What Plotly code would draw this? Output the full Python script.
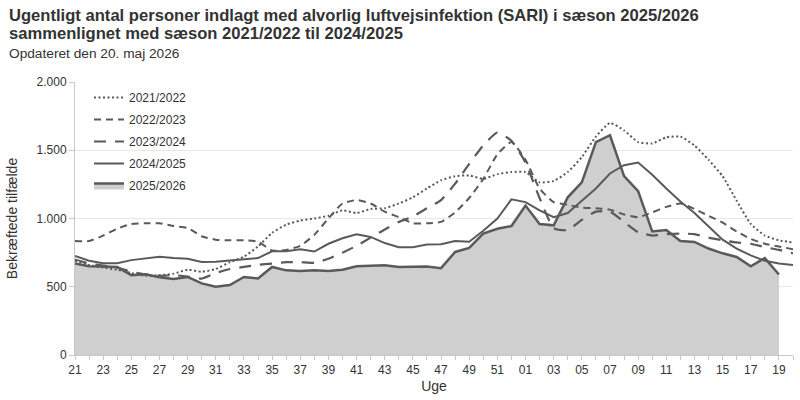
import plotly.graph_objects as go

weeks = ["21", "22", "23", "24", "25", "26", "27", "28", "29", "30",
         "31", "32", "33", "34", "35", "36", "37", "38", "39", "40",
         "41", "42", "43", "44", "45", "46", "47", "48", "49", "50",
         "51", "52", "01", "02", "03", "04", "05", "06", "07", "08",
         "09", "10", "11", "12", "13", "14", "15", "16", "17", "18",
         "19", "20"]

s2122 = [690, 660, 640, 625, 600, 580, 585, 595, 625, 610,
         630, 680, 720, 795, 895, 955, 985, 1000, 1020, 1060,
         1040, 1070, 1075, 1110, 1155, 1220, 1280, 1310, 1315, 1290,
         1325, 1340, 1340, 1265, 1275, 1340, 1450, 1600, 1700, 1645,
         1560, 1550, 1595, 1600, 1535, 1430, 1310, 1130, 960, 875,
         840, 825]

s2223 = [835, 835, 875, 925, 960, 965, 965, 945, 930, 870,
         845, 840, 840, 830, 765, 770, 800, 880, 1000, 1110,
         1135, 1110, 1050, 1010, 965, 965, 975, 1045, 1150, 1290,
         1470, 1560, 1430, 1220, 1120, 1100, 1080, 1075, 1065, 1030,
         1010, 1045, 1085, 1110, 1070, 1020, 970, 905, 850, 815,
         795, 775]

s2324 = [700, 670, 655, 640, 610, 590, 580, 585, 575, 560,
         600, 630, 645, 660, 670, 680, 680, 675, 705, 750,
         800, 860, 920, 975, 1015, 1075, 1135, 1255, 1400, 1535,
         1630, 1570, 1410, 1150, 930, 915, 990, 1050, 1050, 975,
         900, 875, 885, 890, 885, 860, 840, 825, 815, 790,
         770, 745]

s2425 = [725, 690, 672, 672, 695, 705, 720, 710, 705, 682,
         683, 692, 700, 710, 760, 760, 775, 758, 815, 855,
         885, 865, 820, 790, 790, 810, 812, 835, 830, 910,
         1000, 1140, 1120, 1060, 1010, 1040, 1130, 1220, 1330, 1390,
         1410, 1320, 1220, 1125, 1040, 945, 845, 780, 730, 690,
         670, 660]

s2526 = [670, 650, 648, 645, 585, 592, 570, 557, 572, 525,
         500, 512, 572, 560, 645, 620, 615, 620, 615, 625,
         650, 655, 658, 645, 648, 648, 636, 755, 785, 890,
         925, 945, 1095, 960, 950, 1155, 1265, 1560, 1610, 1310,
         1200, 905, 915, 835, 828, 780, 745, 718, 650, 710,
         590]

tick_text = [w if i % 2 == 0 else "" for i, w in enumerate(weeks)]

LINE = "#5a5a5a"
FONT = "Liberation Sans, Arial, sans-serif"
TXT = "#333333"

fig = go.Figure()

fig.add_trace(go.Scatter(
    x=weeks[:len(s2526)], y=s2526, name="2025/2026", mode="lines",
    fill="tozeroy", fillcolor="#cfcfcf", legendgroup="g5",
    line=dict(color=LINE, width=2.5), legendrank=5))

fig.add_trace(go.Scatter(
    x=weeks, y=s2122, name="2021/2022", mode="lines", legendgroup="g1",
    line=dict(color=LINE, width=2, dash="2px,2.5px", shape="spline", smoothing=0.5),
    legendrank=1))
fig.add_trace(go.Scatter(
    x=weeks, y=s2223, name="2022/2023", mode="lines", legendgroup="g2",
    line=dict(color=LINE, width=2, dash="7px,5px", shape="spline", smoothing=0.5),
    legendrank=2))
fig.add_trace(go.Scatter(
    x=weeks, y=s2324, name="2023/2024", mode="lines", legendgroup="g3",
    line=dict(color=LINE, width=2.2, dash="12px,9px", shape="spline", smoothing=0.5),
    legendrank=3))
fig.add_trace(go.Scatter(
    x=weeks, y=s2425, name="2024/2025", mode="lines", legendgroup="g4",
    line=dict(color=LINE, width=2),
    legendrank=4))

PW, PH, L, T = 718, 273, 75, 82


def py(ypix):
    return (355 - ypix) / PH


def px(xpix):
    return (xpix - L) / PW


fig.add_annotation(text="<b>Ugentligt antal personer indlagt med alvorlig luftvejsinfektion (SARI) i sæson 2025/2026</b>",
                   xref="paper", yref="paper", x=px(7), y=py(16), xanchor="left", yanchor="middle",
                   showarrow=False, font=dict(size=16.6, color=TXT, family=FONT))
fig.add_annotation(text="<b>sammenlignet med sæson 2021/2022 til 2024/2025</b>",
                   xref="paper", yref="paper", x=px(7), y=py(34), xanchor="left", yanchor="middle",
                   showarrow=False, font=dict(size=16.6, color=TXT, family=FONT))
fig.add_annotation(text="Opdateret den 20. maj 2026",
                   xref="paper", yref="paper", x=px(7), y=py(54), xanchor="left", yanchor="middle",
                   showarrow=False, font=dict(size=13.7, color=TXT, family=FONT))

fig.update_layout(
    width=800, height=400,
    margin=dict(l=L, r=7, t=T, b=45),
    paper_bgcolor="white", plot_bgcolor="white",
    separators=",.",
    font=dict(family=FONT, size=12, color=TXT),
    showlegend=True,
    legend=dict(x=px(89), y=py(83), xanchor="left", yanchor="top",
                bgcolor="rgba(255,255,255,0)", font=dict(size=12, color=TXT),
                tracegroupgap=3, traceorder="grouped"),
    xaxis=dict(type="category", categoryorder="array", categoryarray=weeks,
               range=[0, len(weeks) - 1], tickmode="array", tickvals=weeks, ticktext=tick_text,
               ticks="outside", ticklen=4, tickcolor="#c8c8c8", showline=True, linecolor="#c8c8c8",
               showgrid=False, zeroline=False, title=dict(text="Uge", standoff=4),
               tickfont=dict(size=12, color=TXT)),
    yaxis=dict(range=[0, 2000], tickvals=[0, 500, 1000, 1500, 2000], tickformat=",d",
               ticks="outside", ticklen=5, tickcolor="#c8c8c8", showline=True, linecolor="#c8c8c8",
               gridcolor="#e8e8e8", zeroline=False, title=dict(text="Bekræftede tilfælde", standoff=15),
               tickfont=dict(size=12, color=TXT)),
)

fig.write_html("out.html")
